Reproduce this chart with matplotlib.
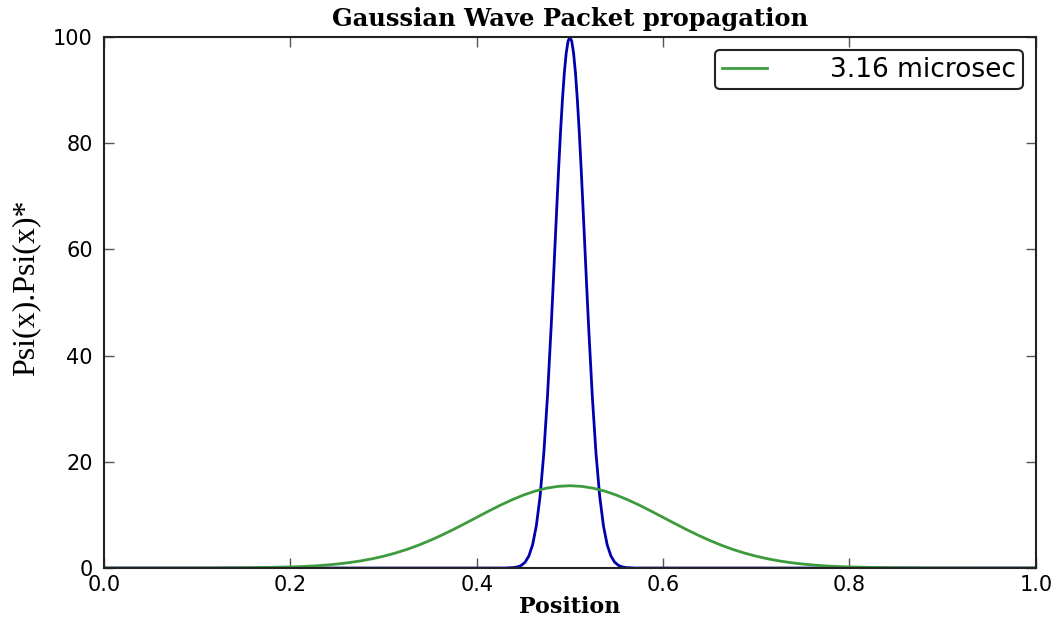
import matplotlib
matplotlib.use("Agg")
import matplotlib.pyplot as plt

# initial packet (narrow, blue)
x_start = [0.0, 0.43, 0.44, 0.444, 0.448, 0.452, 0.456, 0.46, 0.464, 0.468, 0.472,
           0.476, 0.48, 0.482, 0.484, 0.486, 0.488, 0.49, 0.492, 0.494, 0.496, 0.498,
           0.5,
           0.502, 0.504, 0.506, 0.508, 0.51, 0.512, 0.514, 0.516, 0.518, 0.52,
           0.524, 0.528, 0.532, 0.536, 0.54, 0.544, 0.548, 0.552, 0.556, 0.56, 0.57, 1.0]
psi_start = [0.0, 0.0, 0.09, 0.22, 0.51, 1.11, 2.28, 4.39, 7.96, 13.5, 21.6,
             32.5, 45.8, 53.1, 60.7, 68.2, 75.5, 82.3, 88.2, 93.2, 96.9, 99.2,
             100.0,
             99.2, 96.9, 93.2, 88.2, 82.3, 75.5, 68.2, 60.7, 53.1, 45.8,
             32.5, 21.6, 13.5, 7.96, 4.39, 2.28, 1.11, 0.51, 0.22, 0.09, 0.0, 0.0]

# packet after 3.16 microsec (broad, green)
x_later = [0.0, 0.1, 0.15, 0.2, 0.2125, 0.225, 0.2375, 0.25, 0.2625, 0.275, 0.2875,
           0.3, 0.3125, 0.325, 0.3375, 0.35, 0.3625, 0.375, 0.3875, 0.4, 0.4125,
           0.425, 0.4375, 0.45, 0.4625, 0.475, 0.4875, 0.5,
           0.5125, 0.525, 0.5375, 0.55, 0.5625, 0.575, 0.5875, 0.6, 0.6125, 0.625,
           0.6375, 0.65, 0.6625, 0.675, 0.6875, 0.7, 0.7125, 0.725, 0.7375, 0.75,
           0.7625, 0.775, 0.7875, 0.8, 0.85, 0.9, 1.0]
psi_later = [0.0, 0.006, 0.04, 0.20, 0.28, 0.39, 0.55, 0.75, 1.00, 1.33, 1.73,
             2.22, 2.81, 3.50, 4.30, 5.20, 6.19, 7.26, 8.39, 9.54, 10.69,
             11.80, 12.82, 13.73, 14.48, 15.04, 15.38, 15.5,
             15.38, 15.04, 14.48, 13.73, 12.82, 11.80, 10.69, 9.54, 8.39, 7.26,
             6.19, 5.20, 4.30, 3.50, 2.81, 2.22, 1.73, 1.33, 1.00, 0.75,
             0.55, 0.39, 0.28, 0.20, 0.04, 0.006, 0.0]

fig = plt.figure(figsize=(10.58, 6.21), dpi=100)
ax = fig.add_axes([0.0983, 0.0853, 0.8807, 0.8551])

ax.plot(x_start, psi_start, color="#0000b0", linewidth=2)
ax.plot(x_later, psi_later, color="#3d9a3d", linewidth=2, label="3.16 microsec")

ax.set_xlim(0, 1)
ax.set_ylim(0, 100)
ax.set_xticks([0.0, 0.2, 0.4, 0.6, 0.8, 1.0])
ax.set_yticks([0, 20, 40, 60, 80, 100])
ax.xaxis.set_major_formatter(matplotlib.ticker.FormatStrFormatter("%.1f"))
ax.tick_params(direction="in", length=7, width=1, color="#555555",
               top=True, right=True, labelsize=15, pad=5)
ax.tick_params(axis="y", pad=8)
for s in ax.spines.values():
    s.set_linewidth(1.5)
    s.set_color("#222222")

ax.set_title("Gaussian Wave Packet propagation", fontsize=17.5, fontweight="bold",
             family="DejaVu Serif", pad=8)
ax.set_xlabel("Position", fontsize=16, fontweight="bold", family="DejaVu Serif",
              labelpad=1)
ax.set_ylabel("Psi(x).Psi(x)*", fontsize=23, family="Liberation Serif")
ax.yaxis.set_label_coords(-0.068, 0.527)

leg = ax.legend(loc="upper right", fontsize=19, handlelength=1.7, handletextpad=2.4,
                fancybox=True, framealpha=1, borderpad=0.25, borderaxespad=0.5)
leg.get_frame().set_edgecolor("#222222")
leg.get_frame().set_linewidth(1.5)

fig.savefig("out.png", dpi=100, facecolor="white")
